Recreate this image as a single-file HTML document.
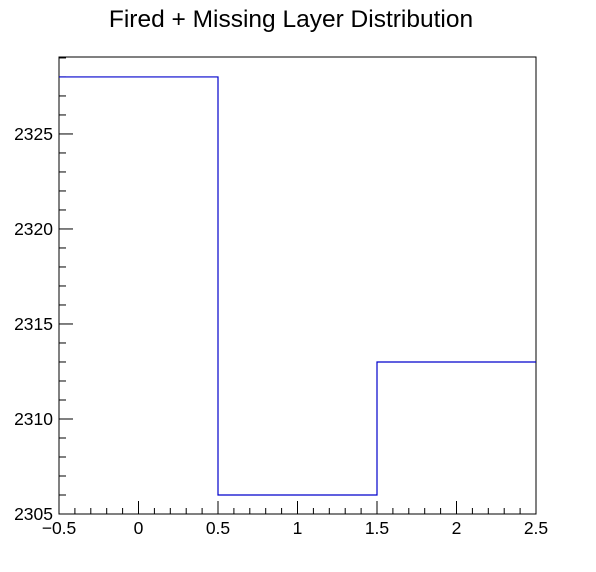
<!DOCTYPE html>
<html><head><meta charset="utf-8"><style>
body{margin:0;background:#fff;}
svg{display:block;font-family:"Liberation Sans",sans-serif;}
</style></head><body>
<svg id="c" width="596" height="572">
<text x="291" y="27" text-anchor="middle" font-size="24.5">Fired + Missing Layer Distribution</text>
<rect x="59" y="57" width="477" height="457" fill="none" stroke="#000" stroke-width="1"/>
<g id="ticks"></g>
<path id="hist" fill="none" stroke="#0000cc" stroke-width="1.2"/>
</svg>
<script>
const binEdges=[-0.5,0.5,1.5,2.5];
const binValues=[2328,2306,2313];
const xTicks=[-0.5,0,0.5,1,1.5,2,2.5];
const xTickLabels=["−0.5","0","0.5","1","1.5","2","2.5"];
const yTicks=[2305,2310,2315,2320,2325];
const yTickLabels=["2305","2310","2315","2320","2325"];
const X0=59,X1=536,Y0=514,Y1=57,xmin=-0.5,xmax=2.5,ymin=2305,ymax=2329.05;
const sx=v=>X0+(v-xmin)/(xmax-xmin)*(X1-X0);
const sy=v=>Y0-(v-ymin)/(ymax-ymin)*(Y0-Y1);
const NS="http://www.w3.org/2000/svg";
const g=document.getElementById('ticks');
function line(x1,y1,x2,y2,name){const l=document.createElementNS(NS,'line');
l.setAttribute('x1',x1);l.setAttribute('y1',y1);l.setAttribute('x2',x2);l.setAttribute('y2',y2);
l.setAttribute('stroke','#000');


g.appendChild(l);}
function text(x,y,s,anchor,name){const t=document.createElementNS(NS,'text');
t.setAttribute('x',x);t.setAttribute('y',y);t.setAttribute('text-anchor',anchor);t.setAttribute('font-size','17.5');t.textContent=s;


g.appendChild(t);}
for(let v=xmin;v<=xmax+1e-9;v+=0.1){const x=sx(v);const major=Math.abs(v*2-Math.round(v*2))<1e-6;
line(x,Y0,x,Y0-(major?13:6),major?'x-major-tick':'x-minor-tick');}
xTicks.forEach((v,i)=>text(sx(v),Y0+20,xTickLabels[i],'middle','x-tick-label'));
for(let v=ymin;v<=ymax;v+=1){const y=sy(v);const major=v%5===0;
line(X0,y,X0+(major?14:7),y,major?'y-major-tick':'y-minor-tick');}
yTicks.forEach((v,i)=>text(X0-6,sy(v)+6,yTickLabels[i],'end','y-tick-label'));
let d='M'+sx(binEdges[0])+','+sy(binValues[0]);
for(let i=0;i<binValues.length;i++){
 if(i>0)d+=' L'+sx(binEdges[i])+','+sy(binValues[i]);
 d+=' L'+sx(binEdges[i+1])+','+sy(binValues[i]);
}
document.getElementById('hist').setAttribute('d',d);
</script>
</body></html>
